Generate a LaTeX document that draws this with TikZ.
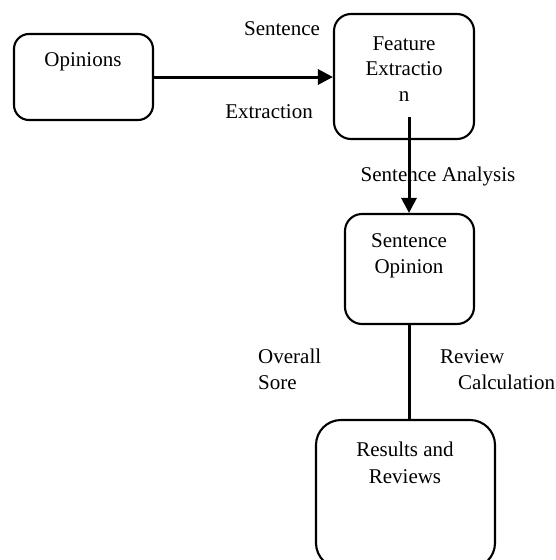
\documentclass[tikz,border=0pt]{standalone}
\usepackage{fontspec}
\setmainfont{Liberation Serif}
\usetikzlibrary{arrows.meta}
\begin{document}
\begin{tikzpicture}[x=1pt,y=-1pt,
  box/.style={draw, line width=2.1pt, rounded corners=#1, inner sep=0pt},
  box/.default=17pt,
  txt/.style={font=\fontsize{21}{25.5}\selectfont, inner sep=0pt, align=center},
  conn/.style={line width=3pt},
  arr/.style={conn, -{Triangle[length=15pt,width=15pt]}}]
\useasboundingbox (0,0) rectangle (555,560);
\clip (0,0) rectangle (555,560);
% boxes
\node[box=15pt, minimum width=139pt, minimum height=86pt] (op) at (83.5,77) {};
\node[box, minimum width=140pt, minimum height=125pt] (fe) at (404,76.5) {};
\node[box, minimum width=129pt, minimum height=110pt] (so) at (409.5,269) {};
\node[box=25pt, minimum width=179pt, minimum height=148pt] (rr) at (405.5,494) {};
% box texts
\node[txt] (opt) at (83,62) {Opinions};
\node[txt] (fet) at (404,69) {Feature\\Extractio\\n};
\node[txt] (sot) at (409,256) {Sentence\\Opinion};
\node[txt, font=\fontsize{21}{27}\selectfont] (rrt) at (405,463) {Results and\\Reviews};
% connector labels
\node[txt] (l1) at (282,29) {Sentence};
\node[txt] (l2) at (269,112) {Extraction};
\node[txt] (l3) at (438,176) {Sentence Analysis};
\node[txt, align=left, anchor=west] (l4) at (258,369.5) {Overall\\Sore};
\node[txt, align=left, anchor=west] (l5) at (440,369.5) {Review\\\hspace*{18pt}Calculation};
% connectors
\coordinate (fs) at (409,117);
\draw[arr] (op.east) -- (op.east -| fe.west);
\draw[arr] (fs) -- (fs |- so.north);
\draw[conn] (so.south -| fs) -- (fs |- rr.north);
\end{tikzpicture}
\end{document}
